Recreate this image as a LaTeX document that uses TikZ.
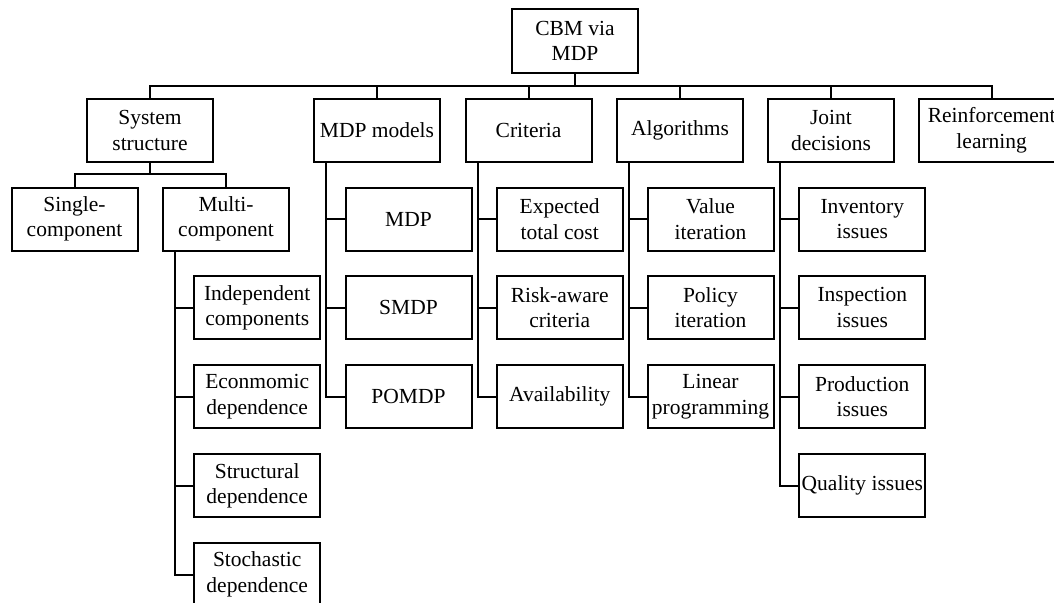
\documentclass[tikz,border=0pt]{standalone}
\usepackage{fontspec}
\setmainfont{Liberation Serif}
\usetikzlibrary{calc}
\begin{document}
\begin{tikzpicture}[x=1pt,y=-1pt,
  box/.style={draw, line width=2pt, rectangle, minimum width=126pt, minimum height=63pt,
    inner sep=1pt, align=center, font=\fontsize{21.5}{25.5}\selectfont},
  link/.style={line width=2pt}]
\useasboundingbox (0,0) rectangle (1054,602);
% root
\node[box] (cbm) at (575,41) {CBM via\\MDP};
% level 1
\node[box] (ss) at (150,130.5) {System\\structure};
\node[box] (mm) at (377,130.5) {MDP models};
\node[box] (cr) at (528.5,130.5) {Criteria};
\node[box] (al) at (680,130.5) {Algorithms};
\node[box] (jd) at (831,130.5) {Joint\\decisions};
\node[box, minimum width=146pt] (rl) at (991.7,130.5) {Reinforcement\\learning};
% bus
\coordinate (bus) at (0,85.7);
\draw[link] (cbm.south) -- (cbm.south |- bus);
\foreach \n in {ss,mm,cr,al,jd,rl} \draw[link] (cbm.south |- bus) -| (\n.north);
% system structure children
\node[box] (single) at (74.5,219) {Single-\\component};
\node[box] (multi) at (226,219) {Multi-\\component};
\coordinate (bus2) at (0,174);
\draw[link] (ss.south) -- (ss.south |- bus2);
\foreach \n in {single,multi} \draw[link] (ss.south |- bus2) -| (\n.north);
% multi-component children
\node[box] (ind) at (257.2,307.7) {Independent\\components};
\node[box] (eco) at (257.2,396.7) {Econmomic\\dependence};
\node[box] (str) at (257.2,485.7) {Structural\\dependence};
\node[box] (sto) at (257.2,574.5) {Stochastic\\dependence};
\coordinate (mv) at ($(multi.south west)+(12.7,0)$);
\foreach \n in {ind,eco,str,sto} \draw[link] (mv) |- (\n.west);
% MDP models children
\node[box] (mdp) at (408.5,219) {MDP};
\node[box] (smdp) at (408.5,307.7) {SMDP};
\node[box] (pomdp) at (408.5,396.7) {POMDP};
\coordinate (mmv) at ($(mm.south west)+(12.7,0)$);
\foreach \n in {mdp,smdp,pomdp} \draw[link] (mmv) |- (\n.west);
% criteria children
\node[box] (etc) at (559.7,219) {Expected\\total cost};
\node[box] (risk) at (559.7,307.7) {Risk-aware\\criteria};
\node[box] (avail) at (559.7,396.7) {Availability};
\coordinate (crv) at ($(cr.south west)+(13,0)$);
\foreach \n in {etc,risk,avail} \draw[link] (crv) |- (\n.west);
% algorithms children
\node[box] (vi) at (710.5,219) {Value\\iteration};
\node[box] (pi) at (710.5,307.7) {Policy\\iteration};
\node[box] (lp) at (710.5,396.7) {Linear\\programming};
\coordinate (alv) at ($(al.south west)+(13.3,0)$);
\foreach \n in {vi,pi,lp} \draw[link] (alv) |- (\n.west);
% joint decisions children
\node[box] (inv) at (862.3,219) {Inventory\\issues};
\node[box] (insp) at (862.3,307.7) {Inspection\\issues};
\node[box] (prod) at (862.3,396.7) {Production\\issues};
\node[box] (qual) at (862.3,485.7) {Quality issues};
\coordinate (jdv) at ($(jd.south west)+(12.7,0)$);
\foreach \n in {inv,insp,prod,qual} \draw[link] (jdv) |- (\n.west);
\end{tikzpicture}
\end{document}
